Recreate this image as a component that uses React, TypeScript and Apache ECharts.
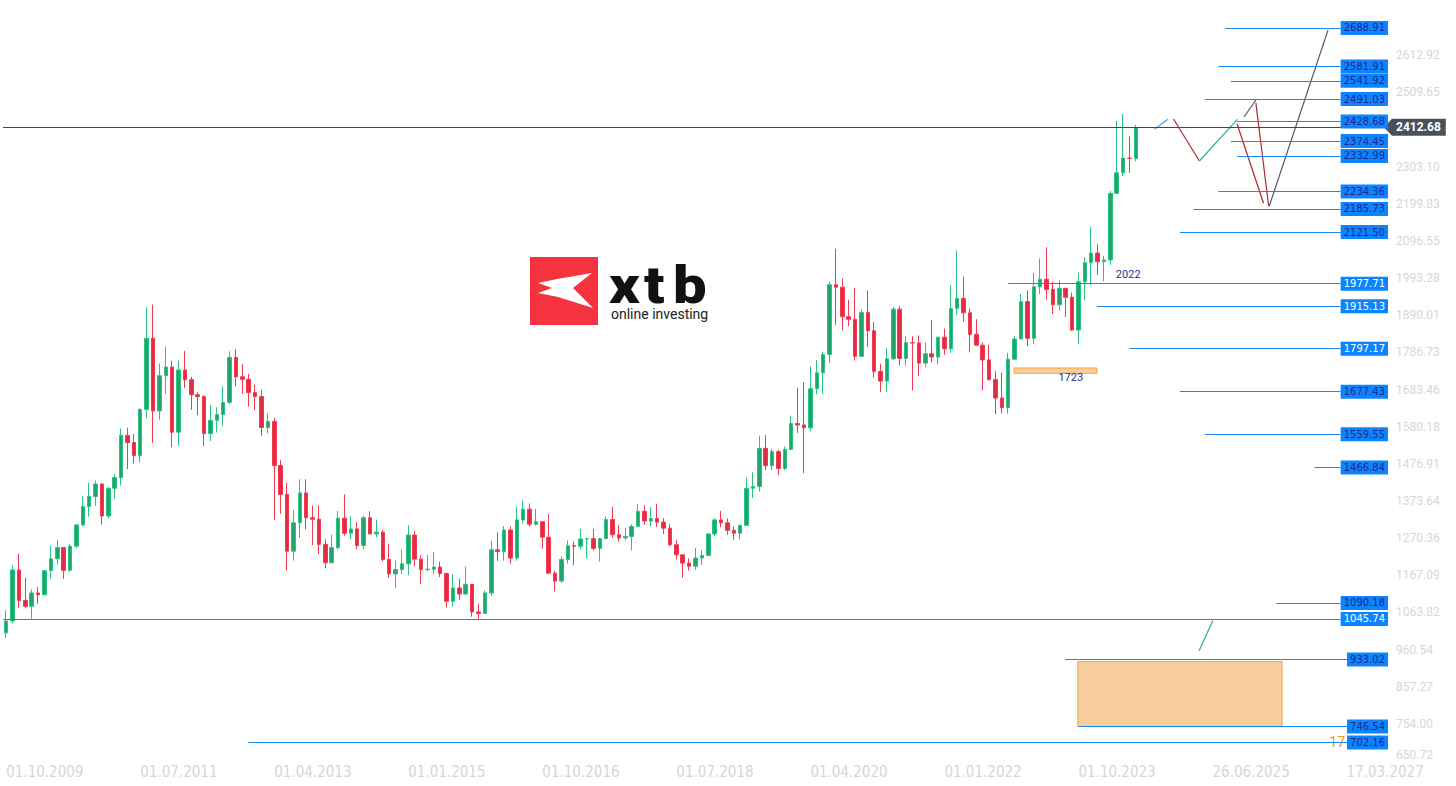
import { useEffect, useRef } from 'react';
import * as echarts from 'echarts';

// ---------- DATA ----------
// monthly candles, first month = Oct 2009; each item = [open, close, low, high]
const firstYear = 2009;
const firstMonth = 10;
const slotCount = 217; // candle months + empty future months on the time axis

const candles2009 = [
  [1007, 1040, 992, 1070], [1040, 1182, 1033, 1195], [1182, 1097, 1075, 1227],
];
const candles2010 = [
  [1097, 1081, 1075, 1161], [1081, 1118, 1045, 1128], [1118, 1113, 1088, 1135], [1113, 1180, 1111, 1181],
  [1180, 1213, 1158, 1249], [1213, 1244, 1197, 1265], [1244, 1181, 1157, 1245], [1181, 1248, 1177, 1254],
  [1248, 1307, 1243, 1310], [1307, 1358, 1303, 1388], [1358, 1386, 1330, 1424], [1386, 1421, 1360, 1431],
];
const candles2011 = [
  [1421, 1332, 1308, 1424], [1332, 1409, 1325, 1412], [1409, 1439, 1380, 1448], [1439, 1556, 1417, 1575],
  [1556, 1536, 1462, 1577], [1536, 1500, 1478, 1560], [1500, 1628, 1481, 1632], [1628, 1826, 1604, 1912],
  [1826, 1624, 1535, 1920], [1624, 1722, 1600, 1756], [1722, 1746, 1671, 1803], [1746, 1565, 1523, 1764],
];
const candles2012 = [
  [1565, 1738, 1527, 1764], [1738, 1711, 1688, 1791], [1711, 1669, 1627, 1719], [1669, 1664, 1612, 1676],
  [1664, 1561, 1527, 1668], [1561, 1598, 1540, 1640], [1598, 1614, 1564, 1634], [1614, 1648, 1583, 1692],
  [1648, 1773, 1644, 1790], [1773, 1719, 1692, 1796], [1719, 1712, 1672, 1755], [1712, 1675, 1636, 1727],
];
const candles2013 = [
  [1675, 1664, 1626, 1697], [1664, 1578, 1555, 1683], [1578, 1595, 1562, 1617], [1595, 1472, 1321, 1605],
  [1472, 1392, 1338, 1488], [1392, 1234, 1180, 1424], [1234, 1313, 1208, 1348], [1313, 1396, 1271, 1434],
  [1396, 1327, 1295, 1434], [1327, 1323, 1251, 1361], [1323, 1253, 1226, 1362], [1253, 1202, 1187, 1267],
];
const candles2014 = [
  [1202, 1244, 1202, 1280], [1244, 1326, 1238, 1346], [1326, 1284, 1277, 1392], [1284, 1296, 1268, 1331],
  [1296, 1250, 1240, 1315], [1250, 1327, 1240, 1332], [1327, 1282, 1281, 1345], [1282, 1287, 1273, 1322],
  [1287, 1211, 1206, 1293], [1211, 1171, 1160, 1255], [1171, 1183, 1131, 1208], [1183, 1199, 1170, 1238],
];
const candles2015 = [
  [1199, 1279, 1167, 1307], [1279, 1212, 1192, 1291], [1212, 1183, 1142, 1223], [1183, 1184, 1178, 1224],
  [1184, 1190, 1170, 1232], [1190, 1172, 1162, 1205], [1172, 1095, 1077, 1175], [1095, 1132, 1080, 1170],
  [1132, 1115, 1098, 1157], [1115, 1142, 1113, 1191], [1142, 1065, 1052, 1143], [1065, 1061, 1046, 1088],
];
const candles2016 = [
  [1061, 1118, 1060, 1125], [1118, 1238, 1110, 1263], [1238, 1233, 1207, 1287], [1233, 1293, 1208, 1304],
  [1293, 1215, 1200, 1303], [1215, 1321, 1208, 1358], [1321, 1351, 1310, 1375], [1351, 1309, 1302, 1367],
  [1309, 1316, 1306, 1352], [1316, 1273, 1241, 1317], [1273, 1173, 1171, 1337], [1173, 1151, 1122, 1180],
];
const candles2017 = [
  [1151, 1211, 1146, 1220], [1211, 1249, 1200, 1264], [1249, 1248, 1195, 1261], [1248, 1268, 1240, 1296],
  [1268, 1269, 1214, 1270], [1269, 1242, 1236, 1296], [1242, 1269, 1205, 1270], [1269, 1322, 1267, 1331],
  [1322, 1280, 1272, 1357], [1280, 1271, 1261, 1306], [1271, 1275, 1264, 1299], [1275, 1303, 1236, 1309],
];
const candles2018 = [
  [1303, 1345, 1302, 1366], [1345, 1318, 1307, 1362], [1318, 1325, 1303, 1356], [1325, 1315, 1301, 1366],
  [1315, 1298, 1282, 1326], [1298, 1252, 1247, 1309], [1252, 1224, 1211, 1266], [1224, 1201, 1160, 1225],
  [1201, 1192, 1180, 1214], [1192, 1215, 1183, 1243], [1215, 1222, 1196, 1237], [1222, 1282, 1221, 1284],
];
const candles2019 = [
  [1282, 1321, 1276, 1326], [1321, 1313, 1300, 1346], [1313, 1292, 1280, 1325], [1292, 1284, 1266, 1303],
  [1284, 1306, 1267, 1307], [1306, 1409, 1305, 1439], [1409, 1414, 1382, 1453], [1414, 1520, 1400, 1555],
  [1520, 1472, 1459, 1557], [1472, 1511, 1459, 1518], [1511, 1464, 1445, 1516], [1464, 1517, 1459, 1525],
];
const candles2020 = [
  [1517, 1589, 1516, 1611], [1589, 1585, 1563, 1689], [1585, 1577, 1451, 1704], [1577, 1686, 1567, 1748],
  [1686, 1730, 1670, 1765], [1730, 1781, 1671, 1789], [1781, 1975, 1757, 1984], [1975, 1968, 1863, 2075],
  [1968, 1886, 1848, 1992], [1886, 1879, 1860, 1933], [1879, 1776, 1764, 1966], [1776, 1898, 1775, 1906],
];
const candles2021 = [
  [1898, 1847, 1802, 1959], [1847, 1734, 1717, 1871], [1734, 1707, 1677, 1755], [1707, 1769, 1677, 1798],
  [1769, 1907, 1765, 1913], [1907, 1770, 1751, 1916], [1770, 1814, 1750, 1833], [1814, 1813, 1681, 1832],
  [1813, 1757, 1721, 1834], [1757, 1783, 1746, 1814], [1783, 1774, 1759, 1877], [1774, 1829, 1753, 1831],
];
const candles2022 = [
  [1829, 1797, 1780, 1853], [1797, 1909, 1786, 1974], [1909, 1937, 1890, 2070], [1937, 1897, 1872, 1998],
  [1897, 1837, 1787, 1909], [1837, 1807, 1805, 1879], [1807, 1766, 1681, 1814], [1766, 1711, 1709, 1808],
  [1711, 1660, 1615, 1735], [1660, 1633, 1617, 1730], [1633, 1768, 1616, 1786], [1768, 1824, 1765, 1833],
];
const candles2023 = [
  [1824, 1928, 1823, 1949], [1928, 1826, 1804, 1959], [1826, 1969, 1810, 2009], [1969, 1990, 1949, 2048],
  [1990, 1962, 1932, 2079], [1962, 1919, 1893, 1983], [1919, 1965, 1903, 1987], [1965, 1940, 1885, 1966],
  [1940, 1849, 1847, 1953], [1849, 1983, 1810, 2009], [1983, 2036, 1932, 2052], [2036, 2063, 1973, 2136],
];
const candles2024 = [
  [2063, 2039, 2002, 2088], [2039, 2044, 1985, 2055], [2044, 2229, 2030, 2236], [2229, 2286, 2228, 2431],
  [2286, 2327, 2277, 2450], [2327, 2326, 2286, 2387], [2326, 2412.68, 2318, 2420],
];

const xTickLabels = ['01.10.2009', '01.07.2011', '01.04.2013', '01.01.2015', '01.10.2016', '01.07.2018',
  '01.04.2020', '01.01.2022', '01.10.2023', '26.06.2025', '17.03.2027'];
const xTickStep = 21;

const yTickLabels = ['650.72', '754.00', '857.27', '960.54', '1063.82', '1167.09', '1270.36', '1373.64',
  '1476.91', '1580.18', '1683.46', '1786.73', '1890.01', '1993.28', '2096.55', '2199.83', '2303.10',
  '2509.65', '2612.92'];
const yMin = 650.72;
const yStep = 103.2737;
const yMax = 2766.6;

const lastPrice = 2412.68;

// horizontal levels: price, first month index of the drawn line, white text on the tag
const levelPrices = [2688.91, 2581.91, 2541.92, 2491.03, 2428.68, 2374.45, 2332.99, 2234.36, 2185.73, 2121.5,
  1977.71, 1915.13, 1797.17, 1677.43, 1559.55, 1466.84, 1090.18, 1045.74, 933.02, 746.54, 702.16];
const levelStartMonth = [191.0, 189.9, 191.9, 187.8, 192.9, 191.9, 192.9, 189.9, 186.0, 183.9,
  157.0, 170.9, 176.0, 183.9, 187.8, 205.0, 199.0, -0.5, 165.9, 168.0, 37.9];
const levelWhiteText = [false, false, false, false, false, false, false, false, false, false,
  true, true, true, false, false, false, false, true, false, false, false];

// zones: [startMonth, topPrice, endMonth, bottomPrice]
const zones = [
  [157.9, 1743.5, 170.9, 1728.8],
  [167.9, 927, 199.9, 746.5],
];

// text notes: [month, price, text]
const notes = [
  [175.8, 2002, '2022'],
  [166.8, 1717, '1723'],
];
const sideNote = [207.3, 702.16, '17'];

// projected path segments: [month1, price1, month2, price2]
const pathRed = [[182.9, 2435.8, 186.95, 2319], [192.86, 2421.9, 197.0, 2201.4], [195.8, 2480.5, 197.8, 2193.9]];
const pathGreen = [[186.95, 2319, 192.9, 2434.9], [186.9, 957.5, 189.05, 1040.9]];
const pathGrey = [[197.9, 2193.9, 207.1, 2683], [193.96, 2442, 195.8, 2488.6]];
const pathBlue = [[179.9, 2407.1, 182.0, 2434.9]];

// ---------- CHART ----------
const candles = [
  ...candles2009, ...candles2010, ...candles2011, ...candles2012, ...candles2013, ...candles2014,
  ...candles2015, ...candles2016, ...candles2017, ...candles2018, ...candles2019, ...candles2020,
  ...candles2021, ...candles2022, ...candles2023, ...candles2024,
];

const categories = Array.from({ length: slotCount }, (_, i) => {
  const m = firstMonth - 1 + i;
  const y = firstYear + Math.floor(m / 12);
  return `01.${String((m % 12) + 1).padStart(2, '0')}.${y}`;
});

const axisGrey = '#d6d6d6';
const levelBlue = '#0b84fe';
const tagFont = 'DejaVu Sans';

function tagWidth(text: string) {
  let w = 6;
  for (const ch of text) w += ch === '.' ? 3.18 : 6.36;
  return w;
}

function segSeries(segs: number[][], color: string) {
  return segs.map((s) => ({
    type: 'line',
    xAxisIndex: 1,
    yAxisIndex: 0,
    data: [[s[0], s[1]], [s[2], s[3]]],
    symbol: 'none',
    silent: true,
    z: 4,
    lineStyle: { color, width: 1.2 },
  }));
}

function logoLetter(ch: string, x: number) {
  return {
    type: 'text',
    x,
    y: 285,
    scaleX: 1.15,
    z: 0,
    style: { text: ch, font: '900 52px Roboto', fill: '#111111', verticalAlign: 'middle', lineHeight: 34 },
  };
}

export default function App() {
  const ref = useRef<HTMLDivElement>(null);
  useEffect(() => {
    document.body.style.margin = '0';
    const chart = echarts.init(ref.current!, null, { renderer: 'svg' });
    const pxPerMonth = 1385 / slotCount;
    const axisEnd = slotCount - 0.5;

    const levelLines = levelPrices.map((p, i) => {
      const text = p.toFixed(2);
      const end = axisEnd - tagWidth(text) / pxPerMonth;
      return [
        {
          coord: [levelStartMonth[i], p],
          lineStyle: { color: '#1688f5', width: 1, type: 'solid' },
          label: {
            show: true,
            position: 'end',
            distance: 0,
            formatter: text,
            color: levelWhiteText[i] ? '#ffffff' : '#25258f',
            backgroundColor: levelBlue,
            padding: [2, 3, 1, 3],
            fontSize: 10,
            lineHeight: 11,
            fontFamily: tagFont,
          },
        },
        { coord: [end, p] },
      ];
    });

    const option: any = {
      animation: false,
      backgroundColor: '#ffffff',
      grid: { left: 3, right: 68, top: 0, bottom: 25 },
      xAxis: [
        {
          type: 'category',
          data: categories,
          boundaryGap: true,
          axisLine: { show: false },
          axisTick: { show: false },
          splitLine: { show: false },
          axisLabel: {
            interval: xTickStep - 1,
            align: 'left',
            margin: 3,
            color: axisGrey,
            fontSize: 15,
            fontFamily: "'Liberation Sans Narrow', 'DejaVu Sans Condensed', Roboto, sans-serif",
            formatter: (_v: string, idx: number) => xTickLabels[idx / xTickStep] ?? '',
          },
        },
        { type: 'value', min: -0.5, max: axisEnd, show: false },
      ],
      yAxis: {
        type: 'value',
        position: 'right',
        min: yMin,
        max: yMax,
        interval: yStep,
        axisLine: { show: false },
        axisTick: { show: false },
        splitLine: { show: false },
        axisLabel: {
          margin: 8,
          color: axisGrey,
          fontSize: 12,
          fontFamily: 'Roboto, sans-serif',
          verticalAlignMinLabel: 'bottom',
          formatter: (v: number) => yTickLabels.find((t) => Math.abs(parseFloat(t) - v) < 0.5) ?? '',
        },
      },
      graphic: [
        { type: 'rect', shape: { x: 530, y: 257, width: 68, height: 68 }, style: { fill: '#f5333f' }, z: 0 },
        {
          type: 'polygon',
          shape: { points: [[538, 283], [557, 279], [592, 273], [573, 288], [593, 308], [558, 297], [538, 293], [552, 288]] },
          style: { fill: '#ffffff' },
          z: 0,
        },
        logoLetter('x', 609),
        logoLetter('t', 644),
        logoLetter('b', 673),
        {
          type: 'text', x: 611, y: 314, z: 0,
          style: { text: 'online investing', font: '14px Roboto', fill: '#222222', verticalAlign: 'middle', lineHeight: 14 },
        },
      ],
      series: [
        {
          type: 'line',
          xAxisIndex: 1,
          yAxisIndex: 0,
          data: [],
          silent: true,
          markPoint: {
            z: 1,
            symbolSize: 0,
            data: [
              {
                coord: [sideNote[0], sideNote[1]],
                label: { show: true, position: 'right', distance: 0, formatter: sideNote[2], color: '#f7931e', fontSize: 14, fontFamily: 'Roboto' },
              },
            ],
          },
          markArea: {
            silent: true,
            z: 1,
            itemStyle: { color: '#f9cfa0', borderColor: '#f6a040', borderWidth: 1 },
            data: zones.map((z) => [{ coord: [z[0], z[1]] }, { coord: [z[2], z[3]] }]),
          },
        },
        {
          type: 'candlestick',
          xAxisIndex: 0,
          yAxisIndex: 0,
          data: candles,
          barWidth: 4,
          z: 2,
          itemStyle: {
            color: '#22a46f',
            color0: '#e12d43',
            borderColor: '#27c581',
            borderColor0: '#f33a50',
            borderWidth: 1,
          },
        },
        ...segSeries(pathRed, '#b3262b'),
        ...segSeries(pathGreen, '#2bb673'),
        ...segSeries(pathGrey, '#4c5563'),
        ...segSeries(pathBlue, '#42a5f5'),
        {
          type: 'line',
          xAxisIndex: 1,
          yAxisIndex: 0,
          data: [],
          silent: true,
          markLine: {
            silent: true,
            z: 5,
            symbol: ['none', 'none'],
            lineStyle: { type: 'solid', width: 1, color: '#1688f5' },
            data: [
              ...levelLines,
              [
                {
                  coord: [-0.5, lastPrice],
                  lineStyle: { color: '#3f4753', width: 1, type: 'solid' },
                  label: {
                    show: true,
                    position: 'end',
                    distance: 4,
                    formatter: lastPrice.toFixed(2),
                    color: '#ffffff',
                    fontWeight: 'bold',
                    fontSize: 12,
                    fontFamily: 'Roboto',
                    backgroundColor: '#48525e',
                    padding: [3, 5, 2, 4],
                    lineHeight: 12,
                  },
                },
                { coord: [axisEnd, lastPrice] },
              ],
            ],
          },
          markPoint: {
            z: 5,
            data: [
              {
                coord: [axisEnd, lastPrice],
                symbol: 'triangle',
                symbolRotate: 90,
                symbolSize: [17, 8],
                itemStyle: { color: '#48525e' },
                label: { show: false },
              },
              ...notes.map((n) => ({
                coord: [n[0], n[1]],
                symbolSize: 0,
                label: { show: true, position: 'inside', formatter: n[2], color: '#2d3192', fontSize: 11, fontFamily: 'Roboto' },
              })),
            ],
          },
        },
      ],
    };
    chart.setOption(option);
    return () => chart.dispose();
  }, []);
  return <div ref={ref} style={{ width: 1456, height: 786 }} />;
}
